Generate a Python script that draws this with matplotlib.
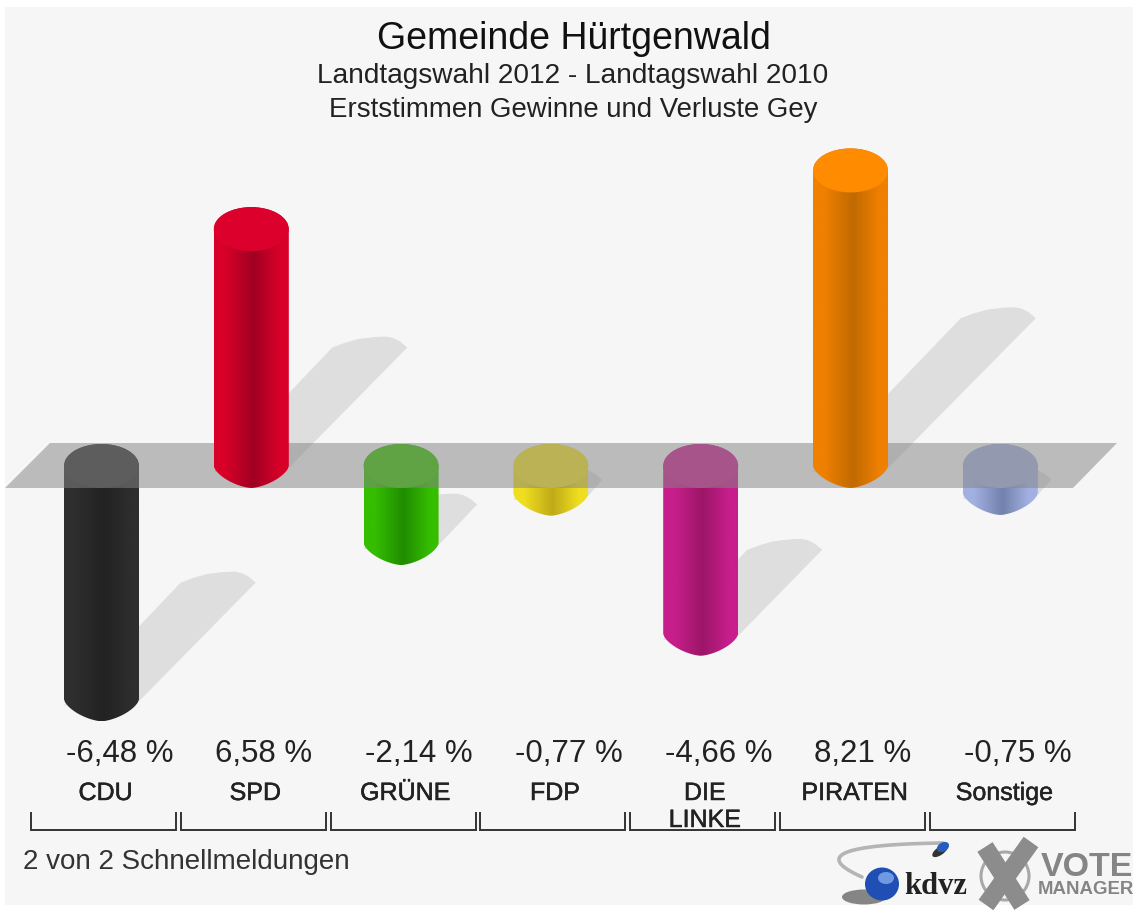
import numpy as np
import matplotlib
matplotlib.use("Agg")
import matplotlib.pyplot as plt
from matplotlib.patches import Polygon, PathPatch, Ellipse, Rectangle, Circle
from matplotlib.path import Path
from matplotlib.transforms import Affine2D
from matplotlib.colors import LinearSegmentedColormap
import matplotlib.patheffects as pe

# ---- data ----
parties = ["CDU", "SPD", "GRÜNE", "FDP", "DIE\nLINKE", "PIRATEN", "Sonstige"]
values = [-6.48, 6.58, -2.14, -0.77, -4.66, 8.21, -0.75]
value_labels = ["-6,48 %", "6,58 %", "-2,14 %", "-0,77 %", "-4,66 %", "8,21 %", "-0,75 %"]
edge_colors = ["#2e2e2e", "#d80028", "#35be00", "#f0de20", "#c81e8c", "#f08000", "#a2b0e2"]
dark_colors = ["#222222", "#a00022", "#1f8c00", "#c0aa18", "#9c1668", "#c06a00", "#7282ac"]
cap_colors = ["#333333", "#dc002c", "#38c400", "#f6e424", "#cc2090", "#ff8c00", "#a4b0dc"]
title = "Gemeinde Hürtgenwald"
subtitle1 = "Landtagswahl 2012 - Landtagswahl 2010"
subtitle2 = "Erststimmen Gewinne und Verluste Gey"
footer = "2 von 2 Schnellmeldungen"

W, H = 1133, 911
plt.rcParams["font.family"] = ["Liberation Sans", "DejaVu Sans"]
fig = plt.figure(figsize=(W / 100, H / 100), dpi=100, facecolor="white")
ax = fig.add_axes([0, 0, 1, 1])

# scale: category spacing and value scale in pixels
X0, DX = 101.5, 149.8
Y0, DY = 466.0, 36.0
ax.set_xlim((0 - X0) / DX, (W - X0) / DX)
ax.set_ylim((Y0 - H) / DY, Y0 / DY)
ax.axis("off")
px = Affine2D().scale(1 / W, -1 / H).translate(0, 1) + fig.transFigure

hw = 37.5 / DX      # half tube width (category units)
hh = 22.0 / DY      # half cap height (value units)
ppu = DY / DX       # shadow keeps 45 degrees on screen
SH = 18.0 / DY      # shadow length per unit of value

ax.add_patch(Rectangle((5, 7), W - 5, 898, transform=px, fc="#f6f6f6", ec="none", zorder=0))


def tube_path(i, v):
    top = max(v, 0)
    bot = min(v, 0)
    t = np.linspace(-1, 1, 81)
    upper = np.sqrt(1 - t ** 2)
    p = 1.55
    lower = (1 - np.abs(t) ** p) ** (1 / p)
    xs = np.r_[i + hw * t, i + hw * t[::-1]]
    ys = np.r_[top + hh * upper, bot - hh * lower[::-1]]
    return Path(np.c_[xs, ys])


def draw_tube(i, v, z):
    path = tube_path(i, v)
    grad = np.linspace(0, 1, 256).reshape(1, -1)
    cmap = LinearSegmentedColormap.from_list(
        "t", [(0, edge_colors[i]), (0.14, edge_colors[i]), (0.53, dark_colors[i]),
              (0.88, edge_colors[i]), (1, edge_colors[i])])
    top, bot = max(v, 0) + hh, min(v, 0) - hh
    im = ax.imshow(grad, extent=[i - hw, i + hw, bot, top], aspect="auto", cmap=cmap,
                   interpolation="bilinear", zorder=z)
    im.set_clip_path(PathPatch(path, transform=ax.transData))
    ax.add_patch(Ellipse((i, max(v, 0)), 2 * hw, 2 * hh, fc=cap_colors[i], ec="none", zorder=z + 0.1))


def shadow_poly(i, v):
    base = min(v, 0)
    L = abs(v) * SH
    Lx = L * ppu
    a = np.array([
        [i - hw, base - 6 / DY],
        [i - hw + Lx, base + L],
        [i - hw + Lx + 12 / DX, base + L + 4.5 / DY],
        [i - hw + Lx + 26 / DX, base + L + 8.5 / DY],
        [i - hw + Lx + 42 / DX, base + L + 10.5 / DY],
        [i - hw + Lx + 54 / DX, base + L + 11 / DY],
        [i + hw + Lx - 14 / DX, base + L + 9.5 / DY],
        [i + hw + Lx - 7 / DX, base + L + 6 / DY],
        [i + hw + Lx, base + L],
        [i + hw, base - 2 / DY],
    ])
    return a


for i, v in enumerate(values):
    ax.add_patch(Polygon(shadow_poly(i, v), fc="#dedede", ec="none", zorder=1))

for i, v in enumerate(values):
    if v < 0:
        draw_tube(i, v, 2)

# zero plane, translucent over the negative tubes
ax.add_patch(Polygon([(5, 488), (50, 443), (1117, 443), (1073, 488)], transform=px,
                     fc="#858585", ec="none", alpha=0.52, zorder=3))

for i, v in enumerate(values):
    if v > 0:
        draw_tube(i, v, 4)

ax.set_xlim((0 - X0) / DX, (W - X0) / DX)
ax.set_ylim((Y0 - H) / DY, Y0 / DY)


def T(x, y, s, size, ha="center", color="#1a1a1a", **kw):
    return ax.text(x, y, s, transform=px, fontsize=size, ha=ha, va="center", color=color, zorder=6, **kw)


T(574, 39, title, 27, color="#111111")
T(573, 76, subtitle1, 20.2, color="#222222")
T(573, 110, subtitle2, 19.9, color="#222222")
T(23, 862, footer, 20, ha="left", color="#333333")

thick = [pe.withStroke(linewidth=0.35, foreground="#222222")]
for i, (name, lab) in enumerate(zip(parties, value_labels)):
    c = 101 + i * DX
    T(c + 18.5 if values[i] < 0 else c + 13, 754, lab, 22.5, color="#222222")
    if "\n" in name:
        a, b = name.split("\n")
        T(c + 4.5, 793, a, 18, color="#222222", path_effects=thick)
        T(c + 4.5, 820, b, 18, color="#222222", path_effects=thick)
    else:
        T(c + 4.5, 793, name, 18, color="#222222", path_effects=thick)
    # bracket under each category
    l, r = 31 + i * DX, 176 + i * DX
    ax.plot([l, l, r, r], [813, 830, 830, 813], transform=px, color="#333333", lw=1.4, zorder=5,
            solid_joinstyle="miter")

# ---- logos ----
t = np.linspace(0, 1, 60)
sx = 943 * (1 - t) ** 2 + 2 * 790 * t * (1 - t) + 862 * t ** 2
sy = 843 * (1 - t) ** 2 + 2 * 845 * t * (1 - t) + 877 * t ** 2
ax.plot(sx, sy, transform=px, color="#b4b4b4", lw=2.6, zorder=5, solid_capstyle="round")
ax.add_patch(Ellipse((864, 897), 44, 15, transform=px, fc="#555555", ec="none", alpha=0.7, zorder=5))
ax.add_patch(Ellipse((882, 884), 34, 33, transform=px, fc="#1f4fb4", ec="none", zorder=5.1))
ax.add_patch(Ellipse((886, 878), 16, 12, transform=px, fc="#6f9ae0", ec="none", zorder=5.2))
ax.add_patch(Ellipse((940, 851), 18, 8, angle=-35, transform=px, fc="#333333", ec="none", zorder=5))
ax.add_patch(Ellipse((943, 847), 13, 9, angle=-30, transform=px, fc="#2a5cc0", ec="none", zorder=5.1))
ax.text(936, 887, "kdvz", transform=px, fontsize=22, family="Liberation Serif", weight="bold",
        ha="center", va="center", color="#222222", zorder=6)
ax.add_patch(Circle((1005, 876), 24, transform=px, fc="none", ec="#a8a8a8", lw=2.2, zorder=5))
ax.plot([985, 1022], [847, 905], transform=px, color="#8c8c8c", lw=13, zorder=5.1, solid_capstyle="butt")
ax.plot([1031, 986], [842, 905], transform=px, color="#8c8c8c", lw=13, zorder=5.1, solid_capstyle="butt")
ax.text(1087, 867, "VOTE", transform=px, fontsize=24.5, weight="bold", ha="center", va="center",
        color="#858585", zorder=6)
ax.text(1086, 890, "MANAGER", transform=px, fontsize=13.4, weight="bold", ha="center", va="center",
        color="#858585", zorder=6)

fig.savefig("out.png", dpi=100)
